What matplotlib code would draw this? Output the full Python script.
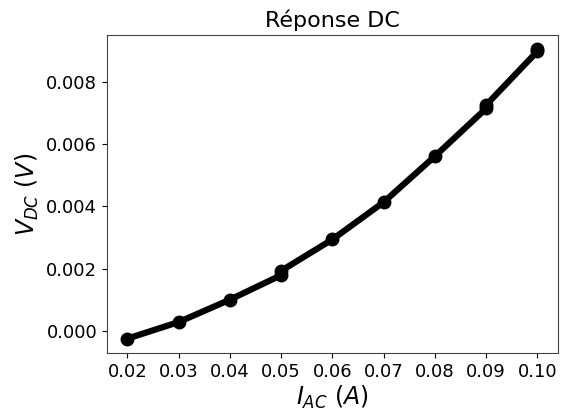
import matplotlib
matplotlib.use("Agg")
import matplotlib.pyplot as plt

# measured points (two runs at some currents)
i_ac = [0.02, 0.03, 0.04, 0.05, 0.05, 0.06, 0.07, 0.08, 0.09, 0.09, 0.10, 0.10]
v_dc = [-0.000255, 0.000278, 0.00100, 0.00179, 0.00193, 0.00294, 0.00414,
        0.00562, 0.00716, 0.00727, 0.00900, 0.00906]

fig = plt.figure(figsize=(5.63, 4.11), dpi=100)
ax = fig.add_axes([0.19, 0.141, 0.801, 0.774])

ax.plot(i_ac, v_dc, '-', color='black', linewidth=4.5)
ax.plot(i_ac, v_dc, 'o', color='black', markersize=9)

ax.set_title('Réponse DC', fontsize=16)
ax.set_xlabel('$I_{AC}$ $(A)$', fontsize=17, labelpad=2)
ax.set_ylabel('$V_{DC}$ $(V)$', fontsize=17)
ax.set_xticks([0.02, 0.03, 0.04, 0.05, 0.06, 0.07, 0.08, 0.09, 0.10])
ax.set_yticks([0.000, 0.002, 0.004, 0.006, 0.008])
ax.tick_params(labelsize=13)
for s in ax.spines.values():
    s.set_color('#444444')

fig.savefig('out.png', dpi=100)
